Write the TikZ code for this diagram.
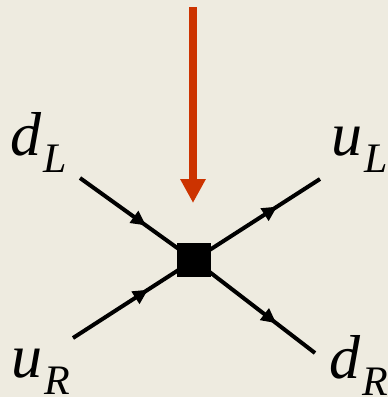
\documentclass[tikz,border=0pt]{standalone}
\usepackage{fontspec}
\setmainfont{Liberation Serif}
\usetikzlibrary{arrows.meta,decorations.markings}
\definecolor{bg}{RGB}{238,235,224}
\definecolor{arrowred}{RGB}{204,51,0}
\newcommand{\quarklbl}[2]{{\itshape\fontsize{62}{62}\selectfont #1}\kern2pt\raisebox{-17pt}{\itshape\fontsize{42}{42}\selectfont #2}}
\tikzset{
  fermion/.style={line width=4pt, postaction={decorate},
    decoration={markings, mark=at position #1 with {\arrow{Triangle[length=15pt,width=14pt]}}}},
  vertexbox/.style={fill=black, draw=none, minimum size=34pt, inner sep=0pt},
  lbl/.style={inner sep=0pt, anchor=base west},
}
\begin{document}
\begin{tikzpicture}[x=1pt,y=-1pt]
\fill[bg] (0,0) rectangle (388,397);
\useasboundingbox (0,0) rectangle (388,397);
\coordinate (c) at (194,260);
\coordinate (dl) at (80,178);
\coordinate (ur) at (73,338);
\coordinate (ul) at (320,179);
\coordinate (dr) at (315,353);
\coordinate (top) at (193,7);
\coordinate (tip) at (193,203);
\draw[fermion=0.58] (dl) -- (c);
\draw[fermion=0.62] (ur) -- (c);
\draw[fermion=0.66] (c) -- (ul);
\draw[fermion=0.68] (c) -- (dr);
\node[vertexbox] (v) at (c) {};
\draw[arrowred, line width=8pt, -{Triangle[length=24pt,width=24pt]}] (top) -- (tip);
\node[lbl] (ldl) at (10,155) {\quarklbl{d}{L}};
\node[lbl] (lul) at (331,155) {\quarklbl{u}{L}};
\node[lbl] (lur) at (11,377) {\quarklbl{u}{R}};
\node[lbl] (ldr) at (329,378) {\quarklbl{d}{R}};
\end{tikzpicture}
\end{document}
